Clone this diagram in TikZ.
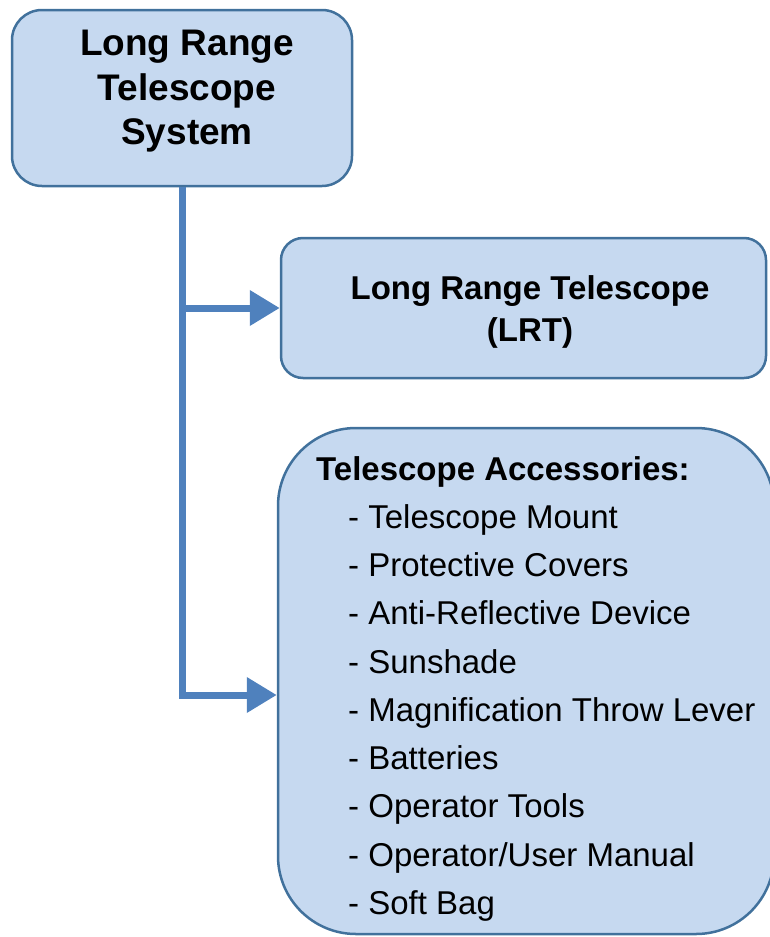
\documentclass[tikz,border=0pt]{standalone}
\usepackage{fontspec}
\setmainfont{Liberation Sans}
\usetikzlibrary{arrows.meta}
\definecolor{boxfill}{RGB}{198,217,240}
\definecolor{boxline}{RGB}{65,113,156}
\definecolor{connline}{RGB}{79,129,189}
\tikzset{
  box/.style={draw=boxline, fill=boxfill, line width=2.5pt, rectangle, inner sep=0pt},
  conn/.style={draw=connline, line width=7pt, -{Triangle[length=30pt,width=34pt]}},
  titlebig/.style={inner sep=0pt, anchor=base, font=\bfseries\fontsize{37}{44}\selectfont},
  titlemid/.style={inner sep=0pt, anchor=base, font=\bfseries\fontsize{33}{42}\selectfont},
  titlehead/.style={inner sep=0pt, anchor=base west, font=\bfseries\fontsize{33}{42}\selectfont},
  itemtxt/.style={inner sep=0pt, anchor=base west, font=\fontsize{33}{42}\selectfont},
}
\begin{document}
\begin{tikzpicture}[x=1pt,y=1pt]
\useasboundingbox (0,0) rectangle (769,-937);
% boxes
\node[box, rounded corners=30pt, minimum width=340pt, minimum height=176pt] (b1) at (182,-98) {};
\node[box, rounded corners=22pt, minimum width=485pt, minimum height=140pt] (b2) at (523.5,-308) {};
\node[box, rounded corners=78pt, minimum width=496pt, minimum height=506pt] (b3) at (526,-681) {};
% box 1 text
\node[titlebig] (t1a) at (187,-55) {Long Range};
\node[titlebig] (t1b) at (187,-100) {Telescope};
\node[titlebig] (t1c) at (187,-144) {System};
% box 2 text
\node[titlemid] (t2a) at (530,-299) {Long Range Telescope};
\node[titlemid] (t2b) at (530,-341) {(LRT)};
% box 3 text
\node[titlehead] (t3) at (316,-480) {Telescope Accessories:};
\foreach \txt [count=\i] in {Telescope Mount, Protective Covers, Anti-Reflective Device, Sunshade, Magnification Throw Lever, Batteries, Operator Tools, Operator/User Manual, Soft Bag}{
  \node[itemtxt] (it\i) at (348,{-480-48.25*\i}) {- \txt};
}
% connectors
\coordinate (j3) at (182,-695);
\draw[conn] (b1.south) -- (j3) -- (b3.west |- j3);
\draw[conn] (b1.south |- b2.west) -- (b2.west);
\end{tikzpicture}
\end{document}
